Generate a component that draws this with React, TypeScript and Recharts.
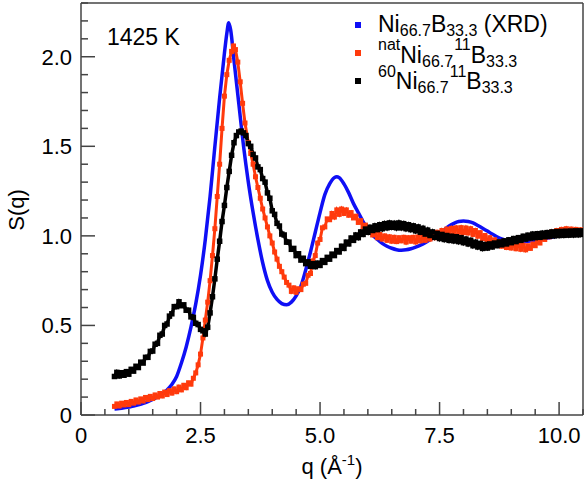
import { LineChart, Line, XAxis, YAxis, ReferenceLine, Legend } from 'recharts';

// S(q) of liquid Ni66.7B33.3 at 1425 K
const xrd: [number, number][] = [
  [0.7, 0.033], [0.8, 0.036], [0.9, 0.04], [1.0, 0.045], [1.1, 0.05], [1.2, 0.057], [1.3, 0.065],
  [1.4, 0.075], [1.5, 0.087], [1.6, 0.1], [1.7, 0.117], [1.8, 0.14], [1.9, 0.17], [2.0, 0.215],
  [2.1, 0.29], [2.2, 0.38], [2.3, 0.49], [2.4, 0.62], [2.5, 0.78], [2.6, 0.98], [2.7, 1.22],
  [2.8, 1.5], [2.9, 1.77], [3.0, 2.02], [3.05, 2.13], [3.09, 2.19], [3.13, 2.15], [3.2, 1.98],
  [3.3, 1.74], [3.4, 1.5], [3.5, 1.3], [3.6, 1.13], [3.7, 0.98], [3.8, 0.85], [3.9, 0.75],
  [4.0, 0.685], [4.1, 0.645], [4.2, 0.622], [4.3, 0.615], [4.4, 0.63], [4.5, 0.665], [4.6, 0.72],
  [4.7, 0.81], [4.8, 0.91], [4.9, 1.02], [5.0, 1.13], [5.1, 1.23], [5.2, 1.29], [5.3, 1.325],
  [5.35, 1.33], [5.4, 1.325], [5.5, 1.29], [5.6, 1.24], [5.7, 1.18], [5.8, 1.13], [5.9, 1.08],
  [6.0, 1.04], [6.1, 1.005], [6.2, 0.98], [6.3, 0.958], [6.4, 0.942], [6.5, 0.931], [6.6, 0.923],
  [6.7, 0.92], [6.8, 0.922], [6.9, 0.928], [7.0, 0.937], [7.1, 0.948], [7.2, 0.962], [7.3, 0.978],
  [7.4, 0.995], [7.5, 1.015], [7.6, 1.035], [7.7, 1.055], [7.8, 1.07], [7.9, 1.08], [8.0, 1.083],
  [8.1, 1.08], [8.2, 1.072], [8.3, 1.058], [8.4, 1.043], [8.5, 1.027], [8.6, 1.01], [8.7, 0.995],
  [8.8, 0.983], [8.9, 0.975], [9.0, 0.97], [9.2, 0.968], [9.4, 0.972], [9.6, 0.98], [9.8, 0.99],
  [10.0, 1.0], [10.2, 1.005], [10.5, 1.005],
];

const natNi: [number, number][] = [
  [0.7, 0.048], [0.75, 0.062], [0.8, 0.05], [0.85, 0.066], [0.9, 0.056], [0.95, 0.07], [1.0, 0.058],
  [1.05, 0.076], [1.1, 0.066], [1.15, 0.084], [1.2, 0.072], [1.25, 0.09], [1.3, 0.078], [1.35, 0.098],
  [1.4, 0.086], [1.45, 0.104], [1.5, 0.092], [1.55, 0.112], [1.6, 0.1], [1.65, 0.12], [1.7, 0.106],
  [1.75, 0.128], [1.8, 0.114], [1.85, 0.136], [1.9, 0.122], [1.95, 0.146], [2.0, 0.13], [2.05, 0.156],
  [2.1, 0.14], [2.15, 0.166], [2.2, 0.152], [2.25, 0.18], [2.3, 0.172], [2.35, 0.205], [2.4, 0.235],
  [2.45, 0.28], [2.5, 0.34], [2.55, 0.43], [2.6, 0.53], [2.65, 0.63], [2.7, 0.75], [2.75, 0.89],
  [2.8, 1.04], [2.85, 1.22], [2.9, 1.4], [2.95, 1.6], [3.0, 1.78], [3.05, 1.9], [3.1, 1.98],
  [3.15, 2.03], [3.19, 2.06], [3.23, 2.04], [3.28, 1.97], [3.33, 1.86], [3.38, 1.74], [3.43, 1.63],
  [3.5, 1.52], [3.55, 1.46], [3.6, 1.4], [3.65, 1.33], [3.7, 1.27], [3.75, 1.21], [3.8, 1.15],
  [3.85, 1.1], [3.9, 1.05], [3.95, 1.0], [4.0, 0.96], [4.05, 0.91], [4.1, 0.87], [4.15, 0.83],
  [4.2, 0.8], [4.25, 0.77], [4.3, 0.74], [4.35, 0.725], [4.4, 0.69], [4.45, 0.71], [4.5, 0.685],
  [4.55, 0.705], [4.6, 0.7], [4.65, 0.73], [4.7, 0.735], [4.75, 0.78], [4.8, 0.79], [4.85, 0.86],
  [4.9, 0.89], [4.95, 0.96], [5.0, 0.98], [5.05, 1.045], [5.1, 1.05], [5.15, 1.095], [5.2, 1.09],
  [5.25, 1.125], [5.3, 1.105], [5.35, 1.145], [5.4, 1.12], [5.45, 1.15], [5.5, 1.125], [5.55, 1.145],
  [5.6, 1.115], [5.65, 1.13], [5.7, 1.1], [5.75, 1.11], [5.8, 1.075], [5.85, 1.085], [5.9, 1.05],
  [5.95, 1.06], [6.0, 1.025], [6.05, 1.04], [6.1, 1.005], [6.15, 1.02], [6.2, 0.99], [6.25, 1.008],
  [6.3, 0.982], [6.35, 1.0], [6.4, 0.975], [6.45, 0.995], [6.5, 0.97], [6.55, 0.992], [6.6, 0.968],
  [6.65, 0.99], [6.7, 0.972], [6.75, 0.992], [6.8, 0.965], [6.85, 0.99], [6.9, 0.97], [6.95, 0.992],
  [7.0, 0.966], [7.05, 0.994], [7.1, 0.972], [7.15, 0.998], [7.2, 0.975], [7.25, 1.004], [7.3, 0.982],
  [7.35, 1.012], [7.4, 0.99], [7.45, 1.02], [7.5, 0.998], [7.55, 1.03], [7.6, 1.008], [7.65, 1.038],
  [7.7, 1.015], [7.75, 1.042], [7.8, 1.018], [7.85, 1.045], [7.9, 1.02], [7.95, 1.046], [8.0, 1.018],
  [8.05, 1.044], [8.1, 1.016], [8.15, 1.04], [8.2, 1.008], [8.25, 1.03], [8.3, 0.998], [8.35, 1.018],
  [8.4, 0.985], [8.45, 1.002], [8.5, 0.972], [8.55, 0.99], [8.6, 0.96], [8.65, 0.978], [8.7, 0.95],
  [8.75, 0.968], [8.8, 0.942], [8.85, 0.96], [8.9, 0.935], [8.95, 0.955], [9.0, 0.932], [9.05, 0.952],
  [9.1, 0.928], [9.15, 0.95], [9.2, 0.925], [9.25, 0.948], [9.3, 0.922], [9.35, 0.945], [9.4, 0.93],
  [9.45, 0.955], [9.5, 0.945], [9.55, 0.97], [9.6, 0.96], [9.65, 0.99], [9.7, 0.98], [9.75, 1.008],
  [9.8, 0.995], [9.85, 1.022], [9.9, 1.005], [9.95, 1.03], [10.0, 1.01], [10.05, 1.036], [10.1, 1.012],
  [10.15, 1.04], [10.2, 1.015], [10.25, 1.038], [10.3, 1.012], [10.35, 1.036], [10.4, 1.01],
  [10.45, 1.034], [10.5, 1.015],
];

const ni60: [number, number][] = [
  [0.7, 0.215], [0.75, 0.238], [0.8, 0.218], [0.85, 0.236], [0.9, 0.222], [0.95, 0.242], [1.0, 0.228],
  [1.05, 0.255], [1.1, 0.245], [1.15, 0.272], [1.2, 0.265], [1.25, 0.295], [1.3, 0.29], [1.35, 0.322],
  [1.4, 0.322], [1.45, 0.355], [1.5, 0.357], [1.55, 0.395], [1.6, 0.4], [1.65, 0.445], [1.7, 0.452],
  [1.75, 0.5], [1.8, 0.508], [1.85, 0.552], [1.9, 0.565], [1.95, 0.605], [2.0, 0.605], [2.05, 0.632],
  [2.1, 0.61], [2.15, 0.615], [2.2, 0.585], [2.25, 0.585], [2.3, 0.548], [2.35, 0.545], [2.4, 0.512],
  [2.45, 0.505], [2.5, 0.478], [2.55, 0.47], [2.6, 0.452], [2.65, 0.49], [2.7, 0.57], [2.75, 0.66],
  [2.8, 0.76], [2.85, 0.87], [2.9, 0.97], [2.95, 1.08], [3.0, 1.17], [3.05, 1.27], [3.1, 1.36],
  [3.15, 1.45], [3.2, 1.52], [3.25, 1.56], [3.3, 1.58], [3.35, 1.585], [3.4, 1.575], [3.45, 1.56],
  [3.5, 1.515], [3.55, 1.5], [3.6, 1.455], [3.65, 1.435], [3.7, 1.385], [3.75, 1.37], [3.8, 1.32],
  [3.85, 1.3], [3.9, 1.24], [3.95, 1.21], [4.0, 1.14], [4.05, 1.12], [4.1, 1.07], [4.15, 1.055],
  [4.2, 1.01], [4.25, 1.005], [4.3, 0.965], [4.35, 0.965], [4.4, 0.925], [4.45, 0.93], [4.5, 0.89],
  [4.55, 0.9], [4.6, 0.865], [4.65, 0.875], [4.7, 0.845], [4.75, 0.855], [4.8, 0.83], [4.85, 0.845],
  [4.9, 0.828], [4.95, 0.848], [5.0, 0.835], [5.05, 0.862], [5.1, 0.852], [5.15, 0.88], [5.2, 0.87],
  [5.25, 0.898], [5.3, 0.89], [5.35, 0.918], [5.4, 0.91], [5.45, 0.942], [5.5, 0.93], [5.55, 0.965],
  [5.6, 0.955], [5.65, 0.988], [5.7, 0.975], [5.75, 1.005], [5.8, 0.99], [5.85, 1.022], [5.9, 1.008],
  [5.95, 1.038], [6.0, 1.02], [6.05, 1.048], [6.1, 1.03], [6.15, 1.056], [6.2, 1.035], [6.25, 1.062],
  [6.3, 1.04], [6.35, 1.068], [6.4, 1.045], [6.45, 1.072], [6.5, 1.048], [6.55, 1.07], [6.6, 1.045],
  [6.65, 1.072], [6.7, 1.045], [6.75, 1.068], [6.8, 1.04], [6.85, 1.062], [6.9, 1.035], [6.95, 1.056],
  [7.0, 1.028], [7.05, 1.05], [7.1, 1.02], [7.15, 1.042], [7.2, 1.01], [7.25, 1.032], [7.3, 1.002],
  [7.35, 1.022], [7.4, 0.992], [7.45, 1.014], [7.5, 0.985], [7.55, 1.008], [7.6, 0.98], [7.65, 1.002],
  [7.7, 0.975], [7.75, 0.998], [7.8, 0.972], [7.85, 0.995], [7.9, 0.968], [7.95, 0.99], [8.0, 0.962],
  [8.05, 0.982], [8.1, 0.955], [8.15, 0.975], [8.2, 0.945], [8.25, 0.965], [8.3, 0.938], [8.35, 0.958],
  [8.4, 0.93], [8.45, 0.952], [8.5, 0.932], [8.55, 0.955], [8.6, 0.938], [8.65, 0.96], [8.7, 0.945],
  [8.75, 0.966], [8.8, 0.95], [8.85, 0.972], [8.9, 0.955], [8.95, 0.978], [9.0, 0.962], [9.05, 0.985],
  [9.1, 0.968], [9.15, 0.99], [9.2, 0.975], [9.25, 0.998], [9.3, 0.982], [9.35, 1.004], [9.4, 0.988],
  [9.45, 1.01], [9.5, 0.99], [9.55, 1.012], [9.6, 0.992], [9.65, 1.015], [9.7, 0.995], [9.75, 1.018],
  [9.8, 0.998], [9.85, 1.022], [9.9, 1.0], [9.95, 1.024], [10.0, 1.002], [10.05, 1.025], [10.1, 1.003],
  [10.15, 1.026], [10.2, 1.004], [10.25, 1.027], [10.3, 1.005], [10.35, 1.028], [10.4, 1.006],
  [10.45, 1.028], [10.5, 1.008],
];

const xTicks = [0, 0.5, 1, 1.5, 2, 2.5, 3, 3.5, 4, 4.5, 5, 5.5, 6, 6.5, 7, 7.5, 8, 8.5, 9, 9.5, 10, 10.5];
const xMajor = [0, 2.5, 5, 7.5, 10];
const xLabels = ['0', '2.5', '5.0', '7.5', '10.0'];
const yTicks = [0, 0.1, 0.2, 0.3, 0.4, 0.5, 0.6, 0.7, 0.8, 0.9, 1, 1.1, 1.2, 1.3, 1.4, 1.5, 1.6, 1.7, 1.8, 1.9, 2, 2.1, 2.2, 2.3];
const yMajor = [0, 0.5, 1, 1.5, 2];
const yLabels = ['0', '0.5', '1.0', '1.5', '2.0'];

const BLUE = '#0f0ff5';
const RED = '#ff3a0c';
const FONT = '"Liberation Sans", Arial, Helvetica, sans-serif';
const AXIS = '#444';

const W = 585;
const H = 485;
const LEFT = 81;
const TOP = 3;
const RIGHT = 2;
const BOTTOM = 70;
const PLOT_BOTTOM = H - BOTTOM;

const toRows = (pts: [number, number][]) => pts.map(([q, s]) => ({ q, s }));

const majorIndex = (list: number[], v: number) => list.findIndex((m) => Math.abs(m - v) < 1e-6);

function XTick({ x, payload }: any) {
  const i = majorIndex(xMajor, payload.value);
  const len = i >= 0 ? 13 : 6;
  return (
    <g>
      <line x1={x} x2={x} y1={PLOT_BOTTOM} y2={PLOT_BOTTOM - len} stroke={AXIS} strokeWidth={1.5} />
      {i >= 0 && (
        <text x={x} y={PLOT_BOTTOM + 28} textAnchor="middle" fontSize={22} fontFamily={FONT} fill="#000">
          {xLabels[i]}
        </text>
      )}
    </g>
  );
}

function YTick({ y, payload }: any) {
  const i = majorIndex(yMajor, payload.value);
  const len = i >= 0 ? 14 : 7;
  return (
    <g>
      <line x1={LEFT} x2={LEFT + len} y1={y} y2={y} stroke={AXIS} strokeWidth={1.5} />
      {i >= 0 && (
        <text x={LEFT - 9} y={y} dy="0.36em" textAnchor="end" fontSize={22} fontFamily={FONT} fill="#000">
          {yLabels[i]}
        </text>
      )}
    </g>
  );
}

const squareDot = (color: string, size: number) => (props: any) => {
  const { cx, cy, index } = props;
  if (cx == null || cy == null) return <g key={index} />;
  return <rect key={index} x={cx - size / 2} y={cy - size / 2} width={size} height={size} fill={color} />;
};

function LegendBox() {
  const sub = { fontSize: 16 };
  return (
    <svg width={245} height={100} style={{ display: 'block' }}>
      <g fontFamily={FONT} fontSize={23} fill="#000">
        <rect x={15} y={22} width={6} height={6} fill={BLUE} />
        <text x={38} y={32}>
          Ni<tspan {...sub} dy={4}>66.7</tspan>
          <tspan dy={-4}>B</tspan>
          <tspan {...sub} dy={4}>33.3</tspan>
          <tspan dy={-4}>{'\u00a0(XRD)'}</tspan>
        </text>
        <rect x={15} y={50} width={6} height={6} fill={RED} />
        <text x={38} y={63}>
          <tspan {...sub} dy={-13}>nat</tspan>
          <tspan dy={13}>Ni</tspan>
          <tspan {...sub} dy={4}>66.7</tspan>
          <tspan {...sub} dx={1} dy={-17}>11</tspan>
          <tspan dy={13}>B</tspan>
          <tspan {...sub} dy={4}>33.3</tspan>
        </text>
        <rect x={15} y={78} width={6} height={6} fill="#000" />
        <text x={38} y={89}>
          <tspan {...sub} dy={-12}>60</tspan>
          <tspan dy={12}>Ni</tspan>
          <tspan {...sub} dy={4}>66.7</tspan>
          <tspan {...sub} dx={1} dy={-16}>11</tspan>
          <tspan dy={12}>B</tspan>
          <tspan {...sub} dy={4}>33.3</tspan>
        </text>
      </g>
    </svg>
  );
}

export default function App() {
  return (
    <div style={{ position: 'absolute', left: 0, top: 0, width: W, height: H, background: '#fff' }}>
      <LineChart width={W} height={H} margin={{ top: TOP, right: RIGHT, left: 0, bottom: 0 }}>
        <XAxis
          type="number"
          dataKey="q"
          domain={[0, 10.5]}
          ticks={xTicks}
          interval={0}
          height={BOTTOM}
          tickLine={false}
          tickSize={0}
          tick={<XTick />}
          axisLine={{ stroke: AXIS, strokeWidth: 1.5 }}
          allowDataOverflow
        />
        <YAxis
          type="number"
          dataKey="s"
          domain={[0, 2.3]}
          ticks={yTicks}
          interval={0}
          width={LEFT}
          tickLine={false}
          tickSize={0}
          tick={<YTick />}
          axisLine={{ stroke: AXIS, strokeWidth: 1.5 }}
          allowDataOverflow
        />
        <ReferenceLine y={2.3} stroke={AXIS} strokeWidth={1.5} />
        <ReferenceLine x={10.5} stroke={AXIS} strokeWidth={1.5} />
        <Legend
          layout="vertical"
          align="center"
          verticalAlign="middle"
          wrapperStyle={{ left: 340, top: 0, width: 245, height: 100 }}
          content={() => <LegendBox />}
        />
        <Line
          data={toRows(xrd)}
          dataKey="s"
          name="Ni66.7B33.3 (XRD)"
          type="monotone"
          stroke={BLUE}
          strokeWidth={3.5}
          dot={false}
          isAnimationActive={false}
        />
        <Line
          data={toRows(natNi)}
          dataKey="s"
          name="natNi66.7 11B33.3"
          type="linear"
          stroke={RED}
          strokeWidth={3}
          dot={squareDot(RED, 5)}
          isAnimationActive={false}
        />
        <Line
          data={toRows(ni60)}
          dataKey="s"
          name="60Ni66.7 11B33.3"
          type="linear"
          stroke="#000"
          strokeWidth={3.5}
          dot={squareDot('#000', 5.5)}
          isAnimationActive={false}
        />
      </LineChart>
      <svg width={W} height={H} style={{ position: 'absolute', left: 0, top: 0, pointerEvents: 'none' }}>
        <g fontFamily={FONT} fill="#000">
          <text x={107} y={45} fontSize={23}>1425 K</text>
          <text transform="translate(24,210) rotate(-90)" textAnchor="middle" fontSize={22}>S(q)</text>
          <text x={332} y={474} textAnchor="middle" fontSize={22}>
            q (Å<tspan fontSize={15} dy={-9}>-1</tspan>
            <tspan dy={9}>)</tspan>
          </text>
        </g>
      </svg>
    </div>
  );
}
